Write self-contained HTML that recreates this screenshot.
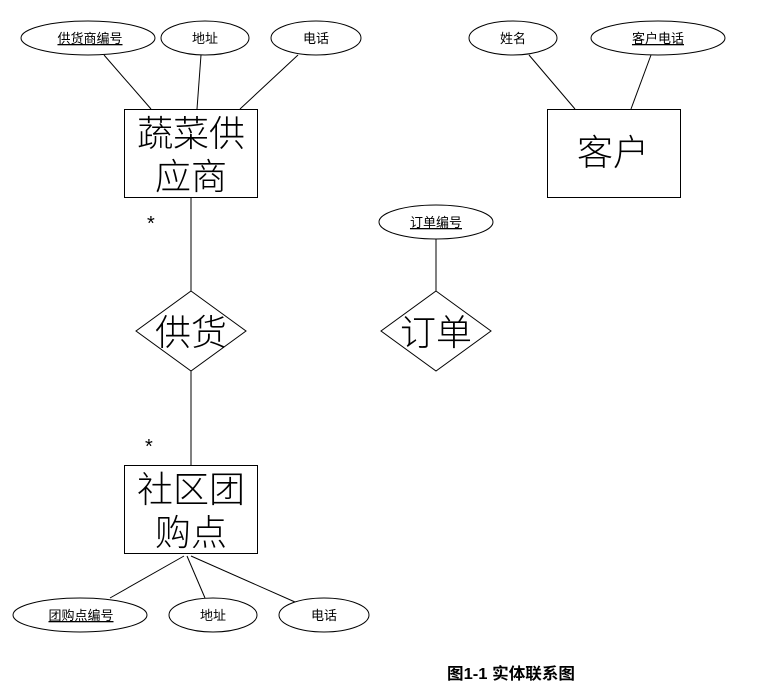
<!DOCTYPE html>
<html><head><meta charset="utf-8">
<style>
html,body{margin:0;padding:0;background:#fff;}
svg{display:block;}
text{font-family:"Liberation Sans","Noto Sans CJK SC",sans-serif;fill:#000;}
.s{font-size:13px;}
.b{font-family:"Liberation Serif","Noto Serif CJK SC","Noto Sans CJK SC",serif;font-size:36px;font-weight:300;}
</style></head><body>
<svg width="759" height="687" viewBox="0 0 759 687" xmlns="http://www.w3.org/2000/svg">
<g fill="#fff" stroke="#000" stroke-width="1">
<ellipse cx="88" cy="38" rx="67" ry="17"/>
<ellipse cx="205" cy="38" rx="44" ry="17"/>
<ellipse cx="316" cy="38" rx="45" ry="17"/>
<line x1="104" y1="55" x2="151" y2="109"/>
<line x1="201" y1="55" x2="197" y2="109"/>
<line x1="298" y1="55" x2="240" y2="109"/>
<rect x="124.5" y="109.5" width="133" height="88"/>
<line x1="191" y1="198" x2="191" y2="291"/>
<polygon points="191,291 246,331 191,371 136,331"/>
<line x1="191" y1="371" x2="191" y2="465"/>
<rect x="124.5" y="465.5" width="133" height="88"/>
<line x1="184" y1="556" x2="110" y2="598"/>
<line x1="187" y1="556" x2="205" y2="598"/>
<line x1="191" y1="556" x2="295" y2="602"/>
<ellipse cx="80" cy="615" rx="67" ry="17"/>
<ellipse cx="213" cy="615" rx="44" ry="17"/>
<ellipse cx="324" cy="615" rx="45" ry="17"/>
<ellipse cx="513" cy="38" rx="44" ry="17"/>
<ellipse cx="658" cy="38" rx="67" ry="17"/>
<line x1="529" y1="55" x2="575" y2="109"/>
<line x1="651" y1="55" x2="631" y2="109"/>
<rect x="547.5" y="109.5" width="133" height="88"/>
<ellipse cx="436" cy="222" rx="57" ry="17"/>
<line x1="436" y1="239" x2="436" y2="291"/>
<polygon points="436,291 491,331 436,371 381,331"/>
</g>
<g class="s" text-anchor="middle">
<text x="90" y="43" text-decoration="underline">供货商编号</text>
<text x="205" y="43">地址</text>
<text x="316" y="43">电话</text>
<text x="513" y="43">姓名</text>
<text x="658" y="43" text-decoration="underline">客户电话</text>
<text x="436" y="227" text-decoration="underline">订单编号</text>
<text x="81" y="620" text-decoration="underline">团购点编号</text>
<text x="213" y="620">地址</text>
<text x="324" y="620">电话</text>
</g>
<g class="b" text-anchor="middle">
<text x="191" y="146">蔬菜供</text>
<text x="191" y="189">应商</text>
<text x="191" y="345">供货</text>
<text x="191" y="502">社区团</text>
<text x="191" y="545">购点</text>
<text x="613" y="165">客户</text>
<text x="436" y="345">订单</text>
</g>
<text x="147" y="230" style="font-size:20px">*</text>
<text x="145" y="453" style="font-size:20px">*</text>
<text x="447" y="679" textLength="128" lengthAdjust="spacingAndGlyphs" style="font-size:16px;font-weight:bold">图1-1 实体联系图</text>
</svg>
</body></html>
